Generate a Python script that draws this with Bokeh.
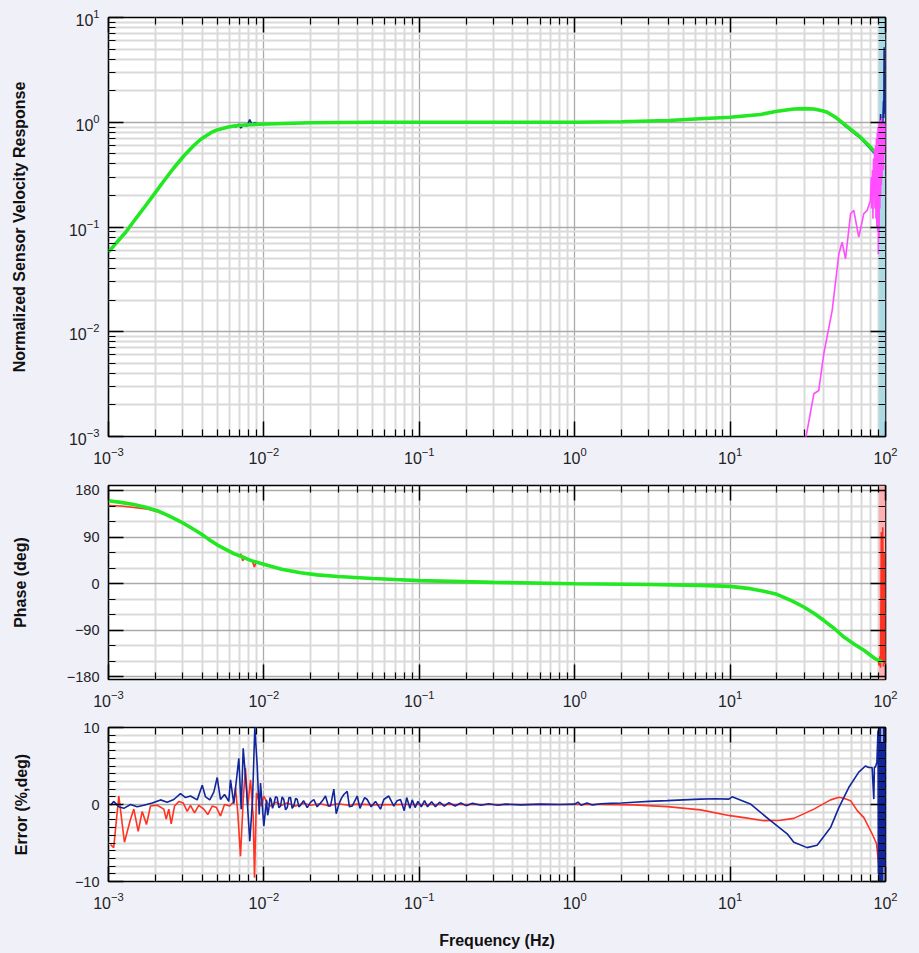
from bokeh.plotting import figure
from bokeh.layouts import column
from bokeh.models import (LogAxis, LinearAxis, FixedTicker, Range1d, BoxAnnotation,
                          CustomJSTickFormatter)
from bokeh.embed import file_html
from bokeh.resources import INLINE

BG = "#f0f0f9"
FONT = "Liberation Sans"
GREEN = "#22e822"
BLUE = "#12269c"
RED = "#ff3322"
MAGENTA = "#ff4dff"

# ---------------- ticks ----------------
x_major = [1e-3, 1e-2, 1e-1, 1e0, 1e1, 1e2]
x_minor = [m * d for d in [1e-3, 1e-2, 1e-1, 1.0, 10.0] for m in range(2, 10)]
mag_major = [1e-3, 1e-2, 1e-1, 1e0, 1e1]
mag_minor = [m * d for d in [1e-3, 1e-2, 1e-1, 1.0] for m in range(2, 10)]
ph_major = [-180, -90, 0, 90, 180]
ph_minor = [-150, -120, -60, -30, 30, 60, 120, 150]
err_major = [-10, 0, 10]
err_minor = [v for v in range(-9, 10) if v != 0]

# ---------------- magnitude panel ----------------
green_mag_f = [1.0e-3, 1.29e-3, 1.455e-3, 1.69e-3, 1.957e-3, 2.27e-3, 2.63e-3, 3.05e-3, 3.54e-3,
               3.91e-3, 4.53e-3, 5.0e-3, 5.81e-3, 6.4e-3, 7.5e-3, 9.3e-3, 0.02, 0.05, 0.1, 0.5,
               1.0, 2.0, 4.0, 6.4, 10, 15.7, 20.1, 25.7, 30, 34.6, 39.2, 42.2, 47.7, 54, 61, 69,
               76.2, 86.3, 88]
green_mag = [0.058, 0.089, 0.1135, 0.152, 0.204, 0.275, 0.366, 0.476, 0.60,
             0.684, 0.79, 0.845, 0.895, 0.92, 0.94, 0.958, 0.99, 1.0, 1.0, 1.0,
             1.0, 1.01, 1.04, 1.08, 1.117, 1.186, 1.276, 1.34, 1.35, 1.34, 1.29, 1.247, 1.117, 0.966,
             0.834, 0.72, 0.622, 0.517, 0.50]

blue_mag_f = [1.0e-3, 1.29e-3, 1.455e-3, 1.69e-3, 1.957e-3, 2.27e-3, 2.63e-3, 3.05e-3, 3.54e-3,
              3.91e-3, 4.53e-3, 5.0e-3, 5.81e-3, 6.4e-3, 6.6e-3,
              6.9e-3, 7.1e-3, 7.4e-3, 7.8e-3, 8.1e-3, 8.4e-3, 8.7e-3, 9.3e-3, 0.02, 0.05,
              0.1, 0.5, 1.0, 2.0, 4.0, 6.4, 10, 15.7, 20.1, 25.7, 30, 34.6, 39.2, 42.2, 47.7,
              54, 61, 69, 76.2, 86.3, 88, 89, 90, 91, 92, 93, 94, 95, 96, 97, 97.5, 98, 98.5,
              99, 100]
blue_mag = [0.057, 0.088, 0.112, 0.151, 0.203, 0.274, 0.365, 0.475, 0.60,
            0.683, 0.79, 0.845, 0.895, 0.92, 0.90,
            0.96, 0.88, 0.94, 0.92, 1.06, 0.95, 0.99, 0.958, 0.99, 1.0,
            1.0, 1.0, 1.0, 1.01, 1.04, 1.08, 1.117, 1.185, 1.27, 1.33, 1.345, 1.33, 1.28, 1.23, 1.10,
            0.94, 0.81, 0.70, 0.60, 0.49, 0.475, 0.62, 0.55, 0.9, 0.7, 1.2, 0.85, 1.1, 0.95, 1.6, 1.1,
            5.2, 1.3, 2.0, 1.2]

coh_f = [30.0, 34.6, 37.2, 40.1, 45.4, 50.1, 52.6, 55.3, 59.6, 62.5, 67.3, 72.5, 76.2, 80.0,
         81.0, 81.5, 82.5, 83.0, 83.8, 84.5, 85.0, 85.5, 86.2, 86.8, 87.4, 88.0, 88.5, 89.0,
         89.5, 90.0, 90.5, 91.0, 91.5, 92.0, 92.5, 93.0, 93.5, 94.0, 94.5, 95.0, 95.5, 96.0,
         96.5, 97.0, 97.5, 98.0, 98.5, 99.0, 99.5, 100.0]
coh = [0.0008, 0.00256, 0.00275, 0.0062, 0.016, 0.0555, 0.0716, 0.0497, 0.134, 0.144, 0.080,
       0.134, 0.144, 0.179,
       0.30, 0.15, 0.35, 0.12, 0.45, 0.20, 0.55, 0.15, 0.60, 0.12, 0.70, 0.10, 0.80, 0.09,
       0.90, 0.055, 0.95, 0.08, 1.0, 0.15, 1.05, 0.20, 1.0, 0.25, 1.1, 0.30, 0.90, 0.40,
       1.0, 0.35, 0.90, 0.50, 1.0, 0.60, 0.95, 0.80]

# ---------------- phase panel ----------------
green_ph_f = [1.0e-3, 1.2e-3, 1.456e-3, 1.75e-3, 2.06e-3, 2.45e-3, 2.90e-3, 3.4e-3, 3.91e-3,
              4.4e-3, 5.0e-3, 6.4e-3, 7.1e-3, 8.2e-3, 1.01e-2, 1.3e-2, 1.72e-2, 2.2e-2, 0.03,
              0.05, 0.07, 0.1, 0.3, 1.0, 3.0, 6.4, 10, 13.5, 16.5, 20, 25, 29.8, 35, 40, 47,
              54, 63, 72.6, 85, 95]
green_ph = [160, 157, 153, 147, 141, 131, 120, 108, 97,
            86, 75, 58, 53, 45, 37, 28, 21, 17, 14,
            10, 8, 6, 2.5, 0.0, -1.5, -3.3, -5.2, -9.6, -14.5, -20.6, -33, -45, -58, -70.7, -87,
            -103, -117, -128.5, -144, -151]

red_ph_f = [1.0e-3, 1.2e-3, 1.456e-3, 1.8e-3, 2.06e-3, 2.45e-3, 2.90e-3, 3.4e-3, 3.91e-3, 4.4e-3,
            5.0e-3, 6.4e-3, 7.0e-3, 7.1e-3, 7.3e-3, 7.5e-3, 8.2e-3, 8.4e-3, 8.7e-3, 8.9e-3,
            9.2e-3, 1.01e-2, 1.3e-2, 1.72e-2, 2.2e-2, 0.03, 0.05, 0.07, 0.1, 0.3, 1.0, 3.0, 6.4,
            10, 13.5, 16.5, 20, 25, 29.8, 35, 40, 47, 54, 63, 72.6, 85, 90, 91, 92, 93, 94, 95,
            96, 97, 98, 99, 100]
red_ph = [151, 150, 147, 144, 139, 130, 119, 107, 96, 85,
          74, 57, 53, 58, 44, 51, 45, 44, 32, 42,
          40, 37, 28, 21, 17, 14, 10, 8, 6, 2.5, 0.0, -1.5, -3.3,
          -5.2, -9.6, -14.5, -20.6, -33, -45, -58, -70.7, -87, -103, -117, -128.5, -145, -150,
          -158, -140, -162, 100, -150, 109, -160, 60, -155, -130]

# ---------------- error panel ----------------
err_red_f = [1.03e-3, 1.08e-3, 1.165e-3, 1.267e-3, 1.386e-3, 1.455e-3, 1.553e-3, 1.648e-3, 1.756e-3,
             1.863e-3, 2.058e-3, 2.270e-3, 2.351e-3, 2.443e-3, 2.532e-3, 2.66e-3, 2.834e-3, 3.025e-3,
             3.209e-3, 3.37e-3, 3.576e-3, 3.812e-3, 4.105e-3, 4.355e-3, 4.648e-3, 4.955e-3, 5.256e-3,
             5.579e-3, 6.034e-3, 6.401e-3, 6.564e-3, 6.792e-3, 7.07e-3, 7.36e-3, 7.61e-3, 7.88e-3,
             8.20e-3, 8.53e-3, 8.70e-3, 8.96e-3, 9.27e-3, 9.61e-3, 9.99e-3, 1.05e-2, 1.1e-2, 1.2e-2,
             1.3e-2, 1.4e-2, 1.6e-2, 1.8e-2, 2.0e-2, 2.3e-2, 2.6e-2, 3.0e-2, 3.5e-2, 4.0e-2, 5.0e-2,
             0.08, 0.2, 1.0, 1.47, 2.4, 3.94, 6.45, 10.0, 12.3, 16.5, 21.1, 25.7, 34.6, 44.3, 50.1,
             53.9, 59.6, 65.8, 72.6, 82.0, 87.6, 90.6, 91.2, 91.5, 92.0, 92.5]
err_red = [-5.2, -5.6, 1.1, -4.9, -1.9, -0.6, -3.5, -0.9, -2.6,
           -0.2, -0.1, -0.6, -1.9, -0.6, -2.5, -0.2, 0.4, 0.2,
           -0.9, -0.1, -1.1, -0.1, -0.6, -1.3, -0.2, -0.4, -1.5,
           0.0, -0.2, 0.4, 2.2, -1.1, -6.7, 0.6, 4.75, -0.2,
           3.2, -1.5, -9.5, 1.5, 0.6, -0.2, 1.1, 0.2, -0.2, 0.3,
           -0.1, 0.2, -0.2, 0.15, -0.1, 0.1, -0.15, 0.1, -0.1, 0.05, -0.05,
           0.0, 0.0, 0.0, 0.0, -0.05, -0.28, -0.7, -1.45, -1.7, -2.1, -2.05, -1.8, -0.6, 0.6, 0.93,
           0.8, 0.5, -0.8, -1.7, -3.8, -5.1, -8.1, -9.9, 10.0, -10.0, 8.0]

err_blue_f = [1.03e-3, 1.08e-3, 1.165e-3, 1.254e-3, 1.386e-3, 1.530e-3, 1.687e-3, 1.911e-3, 2.161e-3,
              2.386e-3, 2.632e-3, 2.905e-3, 3.130e-3, 3.37e-3, 3.722e-3, 4.009e-3, 4.209e-3, 4.486e-3,
              4.760e-3, 5.006e-3, 5.256e-3, 5.579e-3, 5.944e-3, 6.096e-3, 6.401e-3, 6.896e-3, 7.144e-3,
              7.36e-3, 7.73e-3, 8.115e-3, 8.45e-3, 8.74e-3, 9.06e-3, 9.33e-3, 9.51e-3, 9.99e-3,
              1.039e-2, 1.057e-2, 1.075e-2, 1.095e-2, 1.114e-2, 1.136e-2, 1.158e-2, 1.188e-2, 1.218e-2,
              1.248e-2, 1.279e-2, 1.31e-2, 1.343e-2, 1.378e-2, 1.413e-2, 1.45e-2, 1.484e-2, 1.52e-2,
              1.557e-2, 1.6e-2, 1.638e-2, 1.68e-2, 1.720e-2, 1.8e-2, 1.9e-2, 2.0e-2, 2.095e-2, 2.2e-2,
              2.313e-2, 2.4e-2, 2.491e-2, 2.6e-2, 2.683e-2, 2.818e-2, 2.92e-2, 3.034e-2, 3.15e-2,
              3.268e-2, 3.436e-2, 3.55e-2, 3.701e-2, 3.986e-2, 4.15e-2, 4.292e-2, 4.45e-2, 4.620e-2,
              4.9e-2, 5.226e-2, 5.627e-2, 5.911e-2, 6.363e-2, 6.853e-2, 7.2e-2, 7.57e-2, 8.0e-2,
              8.3e-2, 8.7e-2, 9.0e-2, 9.4e-2, 0.098, 0.103, 0.108, 0.113, 0.12, 0.127, 0.135, 0.145,
              0.155, 0.17, 0.185, 0.2, 0.22, 0.25, 0.28, 0.32, 0.36, 0.45, 0.6, 0.8, 1.0, 1.05, 1.1,
              1.2, 1.3, 1.47, 1.7, 2.0, 2.4, 3.0, 3.94, 5.0, 6.45, 8.0, 9.82, 10.3, 13.5, 18.2, 23.3,
              25.7, 31.3, 36.3, 38.2, 44.3, 50.1, 58.0, 67.3, 74.3, 78.0, 82.0, 84.1, 84.8, 86.3,
              88.0, 89.5, 90.0, 91.0, 92.0, 93.0, 94.0, 95.0, 96.0, 97.0, 98.0, 99.0, 100.0]
err_blue = [-0.1, 0.4, -0.3, -0.5, 0.0, -0.3, -0.1, 0.2, 0.6,
            0.3, 0.65, 1.4, 0.9, 1.1, 0.6, 2.5, 1.0, 0.6,
            1.6, 3.5, 0.65, 1.3, 0.4, 3.2, 0.1, 6.0, -0.6,
            7.3, 1.9, -4.75, 0.6, 10.0, 5.0, -1.3, 2.8, -2.8,
            0.6, -1.4, -0.6, 0.9, 0.6, -0.5, 0.0, 1.0, 0.9,
            -0.4, -0.2, 1.0, 0.65, -0.7, -0.4, 0.9, 0.9, -0.5,
            -0.2, 0.8, 0.65, -0.3, -0.1, 0.5, -0.4, 0.3, 0.65, -0.3,
            0.2, 0.6, 1.1, -0.2, -0.2, 2.0, -1.2, 0.0, 0.8,
            1.3, 1.7, -0.3, -0.2, 1.1, -0.5, 0.2, 0.9, 0.65,
            -0.3, 0.4, -0.6, 0.65, 1.1, -0.2, 0.5, 0.65, -0.8,
            0.9, -0.5, 0.6, -0.4, 0.4, -0.3, 0.5, -0.3, 0.35, -0.3, 0.3, -0.2,
            0.25, -0.2, 0.2, -0.15, 0.15, -0.1, 0.1, -0.1, 0.05, -0.05, 0.05, 0.0, 0.05, 0.3, -0.1,
            0.2, -0.05, 0.1, 0.15, 0.2, 0.3, 0.4, 0.5, 0.6, 0.7, 0.75, 0.7, 1.0, 0.07, -2.1, -3.8,
            -4.9, -5.6, -5.3, -4.7, -3.0, -0.4, 2.2, 4.2, 5.0, 4.8, 4.8, 0.7, 4.8, 4.9,
            5.5, 9.6, -9.0, 10.0, -10.0, 10.0, -10.0, 8.0, -10.0, 10.0, -8.0, 10.0, -10.0]

HIDE = CustomJSTickFormatter(code="return '0'")


def style(p, yticker, ylabel, y_log, ylabel_standoff, xlabel=None):
    p.border_fill_color = BG
    p.background_fill_color = "white"
    p.outline_line_color = "black"
    p.outline_line_width = 1.6
    p.outline_line_alpha = 1.0
    bottom = p.below[0]
    left = p.left[0]
    xt = FixedTicker(ticks=x_major, minor_ticks=x_minor)
    bottom.ticker = xt
    left.ticker = yticker
    top = LogAxis(ticker=xt, formatter=HIDE)
    if y_log:
        right = LogAxis(ticker=yticker, formatter=HIDE)
    else:
        right = LinearAxis(ticker=yticker, formatter=HIDE)
    p.add_layout(top, "above")
    p.add_layout(right, "right")
    for ax in [bottom, left, top, right]:
        ax.axis_line_color = None
        ax.major_tick_in = 15
        ax.major_tick_out = 0
        ax.minor_tick_in = 7
        ax.minor_tick_out = 0
        ax.major_tick_line_color = "black"
        ax.minor_tick_line_color = "black"
        ax.major_tick_line_width = 1.5
        ax.minor_tick_line_width = 1.2
        ax.major_label_text_font = FONT
        ax.major_label_text_font_size = "16px"
        ax.major_label_text_color = "#222222"
    if not y_log:
        left.major_label_text_font_size = "14.5px"
    for ax in [top, right]:
        ax.major_label_text_font_size = "1px"
        ax.major_label_text_alpha = 0.0
        ax.major_label_standoff = 0
    bottom.major_label_standoff = 10
    left.major_label_standoff = 9
    left.axis_label = ylabel
    left.axis_label_text_font = FONT
    left.axis_label_text_font_style = "bold"
    left.axis_label_text_font_size = "16px"
    left.axis_label_text_color = "#111111"
    left.axis_label_standoff = ylabel_standoff
    if xlabel:
        bottom.axis_label = xlabel
        bottom.axis_label_text_font = FONT
        bottom.axis_label_text_font_style = "bold"
        bottom.axis_label_text_font_size = "16px"
        bottom.axis_label_text_color = "#111111"
        bottom.axis_label_standoff = 20
    for g in [p.xgrid[0], p.ygrid[0]]:
        g.grid_line_color = "#aaaaaa"
        g.grid_line_width = 1.3
        g.minor_grid_line_color = "#dadada"
        g.minor_grid_line_width = 2


def make_fig(height, y_type, y_range, top, bottom):
    return figure(width=919, height=height, output_backend="svg", toolbar_location=None,
                  x_axis_type="log", y_axis_type=y_type,
                  x_range=Range1d(1e-3, 1e2), y_range=y_range,
                  min_border_left=108, min_border_right=34,
                  min_border_top=top, min_border_bottom=bottom)


# magnitude
p1 = make_fig(470, "log", Range1d(1e-3, 10), 17, 34)
style(p1, FixedTicker(ticks=mag_major, minor_ticks=mag_minor),
      "Normalized Sensor Velocity Response", True, 38)
p1.add_layout(BoxAnnotation(left=90.6, right=100, fill_color="#acdae4", fill_alpha=1.0,
                            line_color=None, level="underlay"))
p1.line(blue_mag_f, blue_mag, line_color=BLUE, line_width=1.6)
p1.line(green_mag_f, green_mag, line_color=GREEN, line_width=3.6)
p1.line(coh_f, coh, line_color=MAGENTA, line_width=1.6)

# phase
p2 = make_fig(242, "linear", Range1d(-185, 189.6), 15, 33)
style(p2, FixedTicker(ticks=ph_major, minor_ticks=ph_minor), "Phase (deg)", False, 35)
p2.add_layout(BoxAnnotation(left=90.6, right=100, fill_color="#ffb0b0", fill_alpha=1.0,
                            line_color=None, level="underlay"))
p2.line(red_ph_f, red_ph, line_color=RED, line_width=1.6)
p2.line(green_ph_f, green_ph, line_color=GREEN, line_width=3.6)

# error
p3 = make_fig(241, "linear", Range1d(-10, 10), 15, 72)
style(p3, FixedTicker(ticks=err_major, minor_ticks=err_minor), "Error (%,deg)", False, 42,
      xlabel="Frequency (Hz)")
p3.line(err_red_f, err_red, line_color=RED, line_width=1.6)
p3.line(err_blue_f, err_blue, line_color=BLUE, line_width=1.6)

layout = column(p1, p2, p3, spacing=0, styles={"background-color": BG})
open("out.html", "w").write(file_html(layout, INLINE))
